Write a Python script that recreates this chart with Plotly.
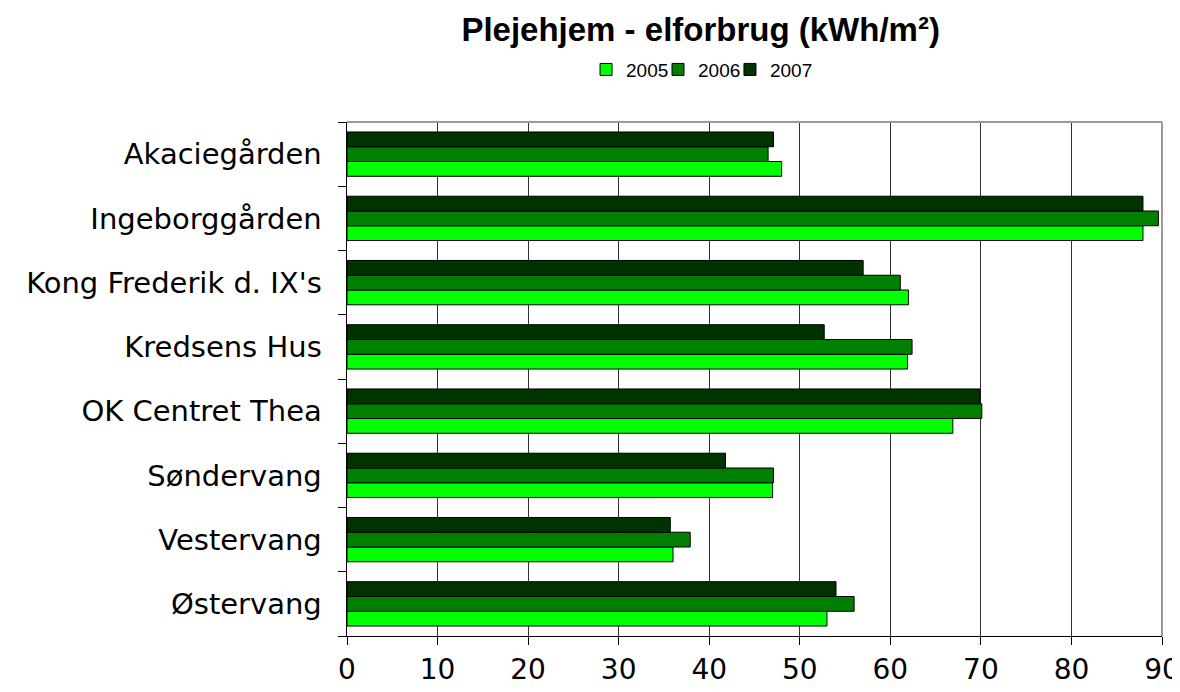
import plotly.graph_objects as go

categories = ["Akaciegården", "Ingeborggården", "Kong Frederik d. IX's", "Kredsens Hus",
              "OK Centret Thea", "Søndervang", "Vestervang", "Østervang"]
v2005 = [48.0, 87.9, 62.0, 61.9, 66.9, 47.0, 36.0, 53.0]
v2006 = [46.5, 89.6, 61.1, 62.4, 70.1, 47.1, 37.9, 56.0]
v2007 = [47.1, 87.9, 57.0, 52.7, 69.9, 41.8, 35.7, 54.0]
series = [("2005", v2005, "#00FF00"), ("2006", v2006, "#008000"), ("2007", v2007, "#003300")]
x_ticks = [0, 10, 20, 30, 40, 50, 60, 70, 80, 90]

legend_ids = ["legend", "legend2", "legend3"]
legend_x = [0.2933, 0.3816, 0.4699]

fig = go.Figure()
for (name, vals, col), lid in zip(series, legend_ids):
    fig.add_trace(go.Bar(y=categories, x=vals, name=name, orientation="h", legend=lid,
                         marker=dict(color=col, line=dict(color="black", width=1))))

leg_common = dict(orientation="h", xanchor="left", y=1.102, yanchor="middle",
                  font=dict(family="Liberation Sans, Arial", size=19, color="black"),
                  itemwidth=30, bgcolor="rgba(0,0,0,0)")
fig.update_layout(
    width=1172, height=684,
    margin=dict(l=339, r=18, t=114, b=56, autoexpand=False),
    paper_bgcolor="white", plot_bgcolor="white",
    barmode="group", bargap=0.31, bargroupgap=0,
    font=dict(family="Verdana, DejaVu Sans, sans-serif", color="black"),
    title=dict(text="<b>Plejehjem - elforbrug (kWh/m²)</b>", x=0.591, xanchor="center",
               y=0.968, yanchor="middle",
               font=dict(family="Liberation Sans, Arial", size=33, color="black")),
    legend=dict(x=legend_x[0], **leg_common),
    legend2=dict(x=legend_x[1], **leg_common),
    legend3=dict(x=legend_x[2], **leg_common),
    showlegend=True,
)
fig.update_xaxes(range=[0, 90], tickvals=x_ticks, showgrid=True, gridcolor="#333333",
                 gridwidth=1, showline=True, linecolor="black", linewidth=1,
                 ticks="outside", ticklen=8, tickcolor="black",
                 tickfont=dict(family="DejaVu Sans, Verdana", size=28), zeroline=False)
fig.update_yaxes(categoryorder="array", categoryarray=categories[::-1],
                 tickson="boundaries", ticks="outside", ticklen=8, tickcolor="black",
                 showline=True, linecolor="black", linewidth=1, showgrid=False,
                 tickfont=dict(family="DejaVu Sans, Verdana", size=29), ticksuffix="  ")
fig.add_shape(type="line", xref="paper", yref="paper", x0=0, x1=1, y0=1, y1=1,
              line=dict(color="#999999", width=2))
fig.add_shape(type="line", xref="paper", yref="paper", x0=1, x1=1, y0=0, y1=1,
              line=dict(color="#999999", width=2))
fig.write_html("out.html")
